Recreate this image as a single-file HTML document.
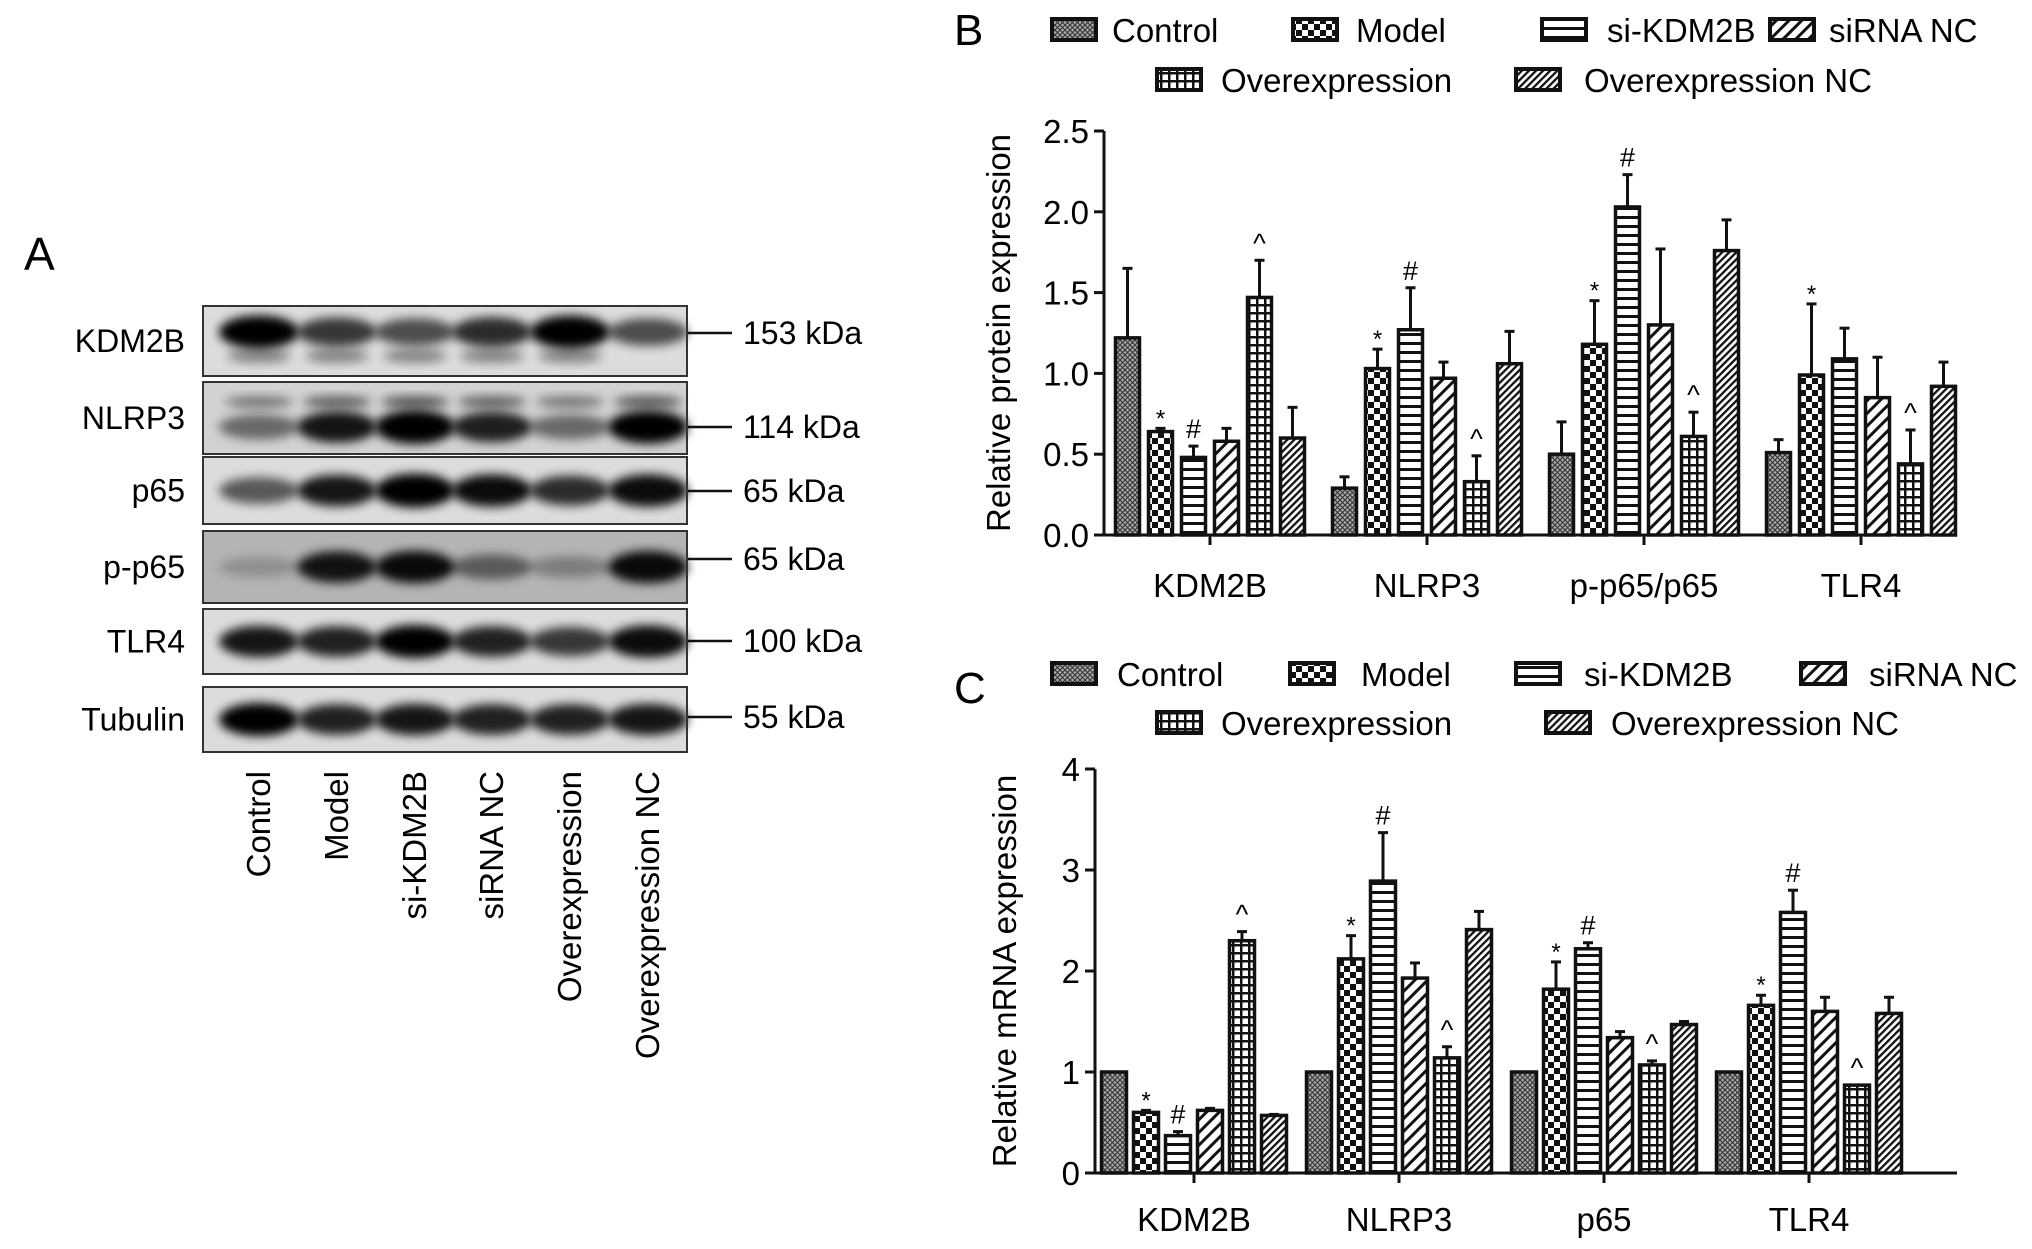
<!DOCTYPE html>
<html><head><meta charset="utf-8"><style>
body{margin:0;background:#fff;}
svg{display:block;font-family:"Liberation Sans",Arial,sans-serif;}
</style></head><body>
<svg id="s" width="2032" height="1249" viewBox="0 0 2032 1249" xmlns="http://www.w3.org/2000/svg">
<defs>
<pattern id="p0" width="5" height="5" patternUnits="userSpaceOnUse"><rect width="5" height="5" fill="#aaa"/><path d="M0 0L5 5M5 0L0 5" stroke="#333" stroke-width="1.1"/></pattern>
<pattern id="p1" width="12" height="12" patternUnits="userSpaceOnUse"><rect width="12" height="12" fill="#111"/><rect width="6" height="6" fill="#fff"/><rect x="6" y="6" width="6" height="6" fill="#fff"/></pattern>
<pattern id="p2" width="10" height="9" patternUnits="userSpaceOnUse"><rect width="10" height="9" fill="#fff"/><rect y="0" width="10" height="3" fill="#111"/></pattern>
<pattern id="p3" width="9" height="9" patternUnits="userSpaceOnUse" patternTransform="rotate(45)"><rect width="9" height="9" fill="#fff"/><rect width="3" height="9" fill="#111"/></pattern>
<pattern id="p4" width="8" height="8" patternUnits="userSpaceOnUse"><rect width="8" height="8" fill="#fff"/><rect width="8" height="2.5" fill="#111"/><rect width="2.5" height="8" fill="#111"/></pattern>
<pattern id="p5" width="5" height="5" patternUnits="userSpaceOnUse" patternTransform="rotate(45)"><rect width="5" height="5" fill="#fff"/><rect width="2.3" height="5" fill="#111"/></pattern>
<filter id="blur" x="-50%" y="-50%" width="200%" height="200%"><feGaussianBlur stdDeviation="5"/></filter>
</defs>
<g id="A"></g>
<g id="B"></g>
<g id="C"></g>
</svg>
<script>
const NS="http://www.w3.org/2000/svg";
const svg=document.getElementById('s');
function mk(tag,attrs,parent,txt){const e=document.createElementNS(NS,tag);for(const k in attrs)e.setAttribute(k,attrs[k]);if(txt!==undefined)e.textContent=txt;(parent||svg).appendChild(e);return e;}

// ---------- Panel A: western blot ----------
const blotRows=["KDM2B","NLRP3","p65","p-p65","TLR4","Tubulin"];
const blotKda=["153 kDa","114 kDa","65 kDa","65 kDa","100 kDa","55 kDa"];
const laneNames=["Control","Model","si-KDM2B","siRNA NC","Overexpression","Overexpression NC"];
const bandIntensity=[[0.95,0.7,0.6,0.75,0.95,0.6],[0.45,0.85,1,0.8,0.45,0.95],[0.55,0.85,1,0.9,0.75,0.9],[0.15,0.85,0.9,0.45,0.25,0.9],[0.85,0.8,0.95,0.8,0.7,0.9],[0.95,0.8,0.85,0.8,0.8,0.85]];
const A=document.getElementById('A');
const rowY=[[306,376],[382,454],[457,524],[531,603],[609,674],[687,752]];
const kdaY=[333,427,491,559,641,717];
const laneX=[259,337,415,492,570,648];
mk('text',{x:24,y:270,'font-size':46,},A,'A');
blotRows.forEach((r,i)=>{
  const [y0,y1]=rowY[i];const g=mk('g',{},A);
  
  
  const bg=i==3?'#b4b4b4':(i==1?'#d2d2d2':'#dcdcdc');
  mk('rect',{x:203,y:y0,width:484,height:y1-y0,fill:bg,stroke:'#333','stroke-width':2},g);
  const cy=i==0?y0+26:(i==1?y0+45:(y0+y1)/2);
  bandIntensity[i].forEach((v,j)=>{
    const b=mk('ellipse',{cx:laneX[j],cy:cy,rx:40,ry:9+v*8,fill:'#000',opacity:Math.min(1,v+0.05),filter:'url(#blur)'},g);
    
    
  });
  if(i==0){laneX.forEach((x,j)=>{if(j<5)mk('ellipse',{cx:x,cy:y0+50,rx:32,ry:7,fill:'#000',opacity:0.4,filter:'url(#blur)'},g);});}
  if(i==1){laneX.forEach((x,j)=>{mk('ellipse',{cx:x,cy:y0+20,rx:34,ry:6,fill:'#000',opacity:0.3+bandIntensity[i][j]*0.3,filter:'url(#blur)'},g);});}
  mk('rect',{x:203,y:y0,width:484,height:y1-y0,fill:'none',stroke:'#333','stroke-width':2},g);
  const lb=mk('text',{x:185,y:(y0+y1)/2+11,'font-size':32,'text-anchor':'end','textLength':0},A,r);
  lb.removeAttribute('textLength');
  
  
  mk('line',{x1:688,x2:732,y1:kdaY[i],y2:kdaY[i],stroke:'#111','stroke-width':2.5},A);
  const kt=mk('text',{x:743,y:kdaY[i]+11,'font-size':32},A,blotKda[i]);
  
  
});
laneNames.forEach((n,j)=>{
  const t=mk('text',{x:0,y:0,'font-size':33,'text-anchor':'end',transform:`translate(${laneX[j]+11},771) rotate(-90)`},A,n);
  
  
});

// ---------- Chart data ----------
const seriesNames=["Control","Model","si-KDM2B","siRNA NC","Overexpression","Overexpression NC"];
const bCategories=["KDM2B","NLRP3","p-p65/p65","TLR4"];
const bTicks=["0.0","0.5","1.0","1.5","2.0","2.5"];
const bControl=[1.22,0.29,0.50,0.51];
const bModel=[0.64,1.03,1.18,0.99];
const bSi=[0.48,1.27,2.03,1.09];
const bSiNC=[0.58,0.97,1.30,0.85];
const bOE=[1.47,0.33,0.61,0.44];
const bOENC=[0.60,1.06,1.76,0.92];
const bErrControl=[0.43,0.07,0.20,0.08];
const bErrModel=[0.02,0.12,0.27,0.44];
const bErrSi=[0.07,0.26,0.20,0.19];
const bErrSiNC=[0.08,0.10,0.47,0.25];
const bErrOE=[0.23,0.16,0.15,0.21];
const bErrOENC=[0.19,0.20,0.19,0.15];
const bMarks=[["","*","#","","^",""],["","*","#","","^",""],["","*","#","","^",""],["","*","","","^",""]];

const cCategories=["KDM2B","NLRP3","p65","TLR4"];
const cTicks=["0","1","2","3","4"];
const cControl=[1.0,1.0,1.0,1.0];
const cModel=[0.60,2.12,1.82,1.66];
const cSi=[0.37,2.89,2.22,2.58];
const cSiNC=[0.62,1.93,1.34,1.60];
const cOE=[2.30,1.14,1.07,0.87];
const cOENC=[0.57,2.41,1.47,1.58];
const cErrControl=[0,0,0,0];
const cErrModel=[0.02,0.23,0.27,0.10];
const cErrSi=[0.04,0.48,0.06,0.22];
const cErrSiNC=[0.02,0.15,0.06,0.14];
const cErrOE=[0.09,0.11,0.04,0.0];
const cErrOENC=[0.01,0.18,0.03,0.16];
const cMarks=[["","*","#","","^",""],["","*","#","","^",""],["","*","#","","^",""],["","*","#","","^",""]];

function chart(cfg){
  const g=document.getElementById(cfg.id);
  const y=v=>cfg.y0-(v/cfg.ymax)*(cfg.y0-cfg.ytop);
  const x=(ci,si)=>cfg.g0+ci*cfg.gs+(si-2.5)*cfg.bs;
  mk('text',{x:cfg.lx,y:cfg.ly,'font-size':44},g,cfg.id);
  cfg.leg.forEach((L,i)=>{
    const lg=mk('g',{},g);
    
    
    mk('rect',{x:L[0],y:L[2]-11,width:44,height:21,fill:`url(#p${i})`,stroke:'#111','stroke-width':4},lg);
    mk('text',{x:L[1],y:L[2]+12,'font-size':33},lg,seriesNames[i]);
  });
  const ax=mk('g',{},g);
  mk('line',{x1:cfg.ax,x2:cfg.ax,y1:cfg.ytop,y2:cfg.y0+1.5,stroke:'#111','stroke-width':3},ax);
  cfg.ticks.forEach((t,i)=>{
    const v=i*cfg.ymax/(cfg.ticks.length-1);
    mk('line',{x1:cfg.ax-10,x2:cfg.ax,y1:y(v),y2:y(v),stroke:'#111','stroke-width':3},ax);
    mk('text',{x:cfg.ax-15,y:y(v)+12,'font-size':33,'text-anchor':'end'},ax,t);
  });
  const yt=mk('text',{x:0,y:0,'font-size':33,'text-anchor':'middle',transform:`translate(${cfg.tx},${(cfg.y0+cfg.ytop)/2}) rotate(-90)`},g,cfg.title);
  
  const xa=mk('g',{},g);
  mk('line',{x1:cfg.ax,x2:cfg.xend,y1:cfg.y0,y2:cfg.y0,stroke:'#111','stroke-width':3},xa);
  cfg.cats.forEach((c,ci)=>{
    const cx=cfg.g0+ci*cfg.gs;
    mk('line',{x1:cx,x2:cx,y1:cfg.y0,y2:cfg.y0+10,stroke:'#111','stroke-width':3},xa);
    mk('text',{x:cx,y:cfg.cy,'font-size':33,'text-anchor':'middle'},xa,c);
  });
  cfg.series.forEach((vals,si)=>{
    vals.forEach((v,ci)=>{
      const bx=x(ci,si)-cfg.bw/2, e=cfg.errs[si][ci];
      const top=y(v+e);
      if(e>0){
        mk('line',{x1:bx+cfg.bw/2,x2:bx+cfg.bw/2,y1:y(v),y2:top,stroke:'#111','stroke-width':3},g);
        mk('line',{x1:bx+cfg.bw/2-5,x2:bx+cfg.bw/2+5,y1:top,y2:top,stroke:'#111','stroke-width':3},g);
      }
      const r=mk('rect',{x:bx,y:y(v),width:cfg.bw,height:cfg.y0-y(v),fill:`url(#p${si})`,stroke:'#111','stroke-width':3.5},g);
      
      
      const m=cfg.marks[ci][si];
      if(m){mk('text',{x:bx+cfg.bw/2,y:top-(m=='*'?2:8),'font-size':m=='*'?24:27,'text-anchor':'middle'},g,m);}
    });
  });
}
chart({id:'B',y0:535,ytop:131,ymax:2.5,ax:1104,xend:1957,g0:1210,gs:217,bs:33,bw:24,lx:954,ly:45,tx:1010,cy:597,
  title:'Relative protein expression',ticks:bTicks,cats:bCategories,
  series:[bControl,bModel,bSi,bSiNC,bOE,bOENC],errs:[bErrControl,bErrModel,bErrSi,bErrSiNC,bErrOE,bErrOENC],marks:bMarks,
  leg:[[1052,1112,30],[1293,1356,30],[1542,1607,30],[1770,1829,30],[1157,1221,80],[1516,1584,80]]});
chart({id:'C',y0:1173,ytop:769,ymax:4,ax:1095,xend:1957,g0:1194,gs:205,bs:32,bw:25,lx:954,ly:703,tx:1016,cy:1231,
  title:'Relative mRNA expression',ticks:cTicks,cats:cCategories,
  series:[cControl,cModel,cSi,cSiNC,cOE,cOENC],errs:[cErrControl,cErrModel,cErrSi,cErrSiNC,cErrOE,cErrOENC],marks:cMarks,
  leg:[[1052,1117,674],[1290,1361,674],[1516,1584,674],[1801,1869,674],[1157,1221,723],[1546,1611,723]]});
</script>
</body></html>
